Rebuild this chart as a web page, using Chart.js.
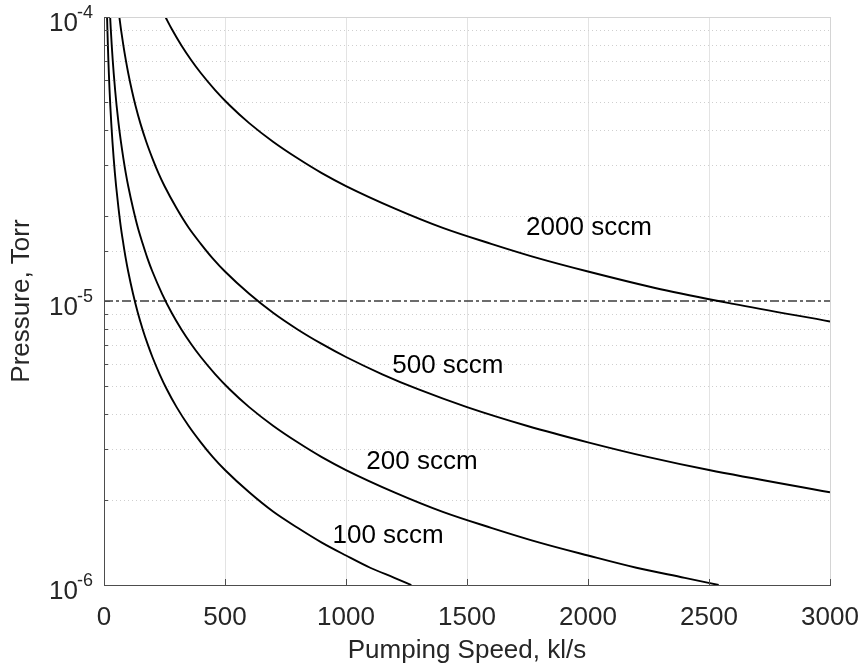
<!DOCTYPE html>
<html>
<head>
<meta charset="utf-8">
<script src="https://cdn.jsdelivr.net/npm/chart.js@4/dist/chart.umd.min.js"></script>
<style>
html,body{margin:0;padding:0;background:#fff;}
#wrap{width:863px;height:668px;}
</style>
</head>
<body>
<div id="wrap"><canvas id="c" width="863" height="668"></canvas></div>
<script>
// ---- data ----
const xTicks = [0, 500, 1000, 1500, 2000, 2500, 3000];
const yTickExps = [-6, -5, -4];

const s100 = [12.7,14,16,18,20,23,26,30,35,40,45,50,60,70,80,90,100,120,140,160,180,200,230,260,300,350,400,450,500,600,700,800,900,1000,1100,1200,1270];
const p100 = [1.0e-4,9.07e-5,7.94e-5,7.06e-5,6.35e-5,5.52e-5,4.88e-5,4.23e-5,3.63e-5,3.18e-5,2.82e-5,2.54e-5,2.12e-5,1.81e-5,1.59e-5,1.41e-5,1.27e-5,1.06e-5,9.07e-6,7.94e-6,7.06e-6,6.35e-6,5.52e-6,4.88e-6,4.23e-6,3.63e-6,3.18e-6,2.82e-6,2.54e-6,2.12e-6,1.81e-6,1.59e-6,1.41e-6,1.27e-6,1.15e-6,1.06e-6,1.0e-6];

const s200 = [25.4,28,32,36,40,46,52,60,70,80,90,100,120,140,160,180,200,240,280,320,360,400,460,520,600,700,800,900,1000,1200,1400,1600,1800,2000,2200,2400,2540];
const p200 = [1.0e-4,9.07e-5,7.94e-5,7.06e-5,6.35e-5,5.52e-5,4.88e-5,4.23e-5,3.63e-5,3.18e-5,2.82e-5,2.54e-5,2.12e-5,1.81e-5,1.59e-5,1.41e-5,1.27e-5,1.06e-5,9.07e-6,7.94e-6,7.06e-6,6.35e-6,5.52e-6,4.88e-6,4.23e-6,3.63e-6,3.18e-6,2.82e-6,2.54e-6,2.12e-6,1.81e-6,1.59e-6,1.41e-6,1.27e-6,1.15e-6,1.06e-6,1.0e-6];

const s500 = [63.5,70,80,90,100,115,130,150,175,200,225,250,300,350,400,450,500,600,700,800,900,1000,1150,1300,1500,1750,2000,2250,2500,3000];
const p500 = [1.0e-4,9.07e-5,7.94e-5,7.06e-5,6.35e-5,5.52e-5,4.88e-5,4.23e-5,3.63e-5,3.18e-5,2.82e-5,2.54e-5,2.12e-5,1.81e-5,1.59e-5,1.41e-5,1.27e-5,1.06e-5,9.07e-6,7.94e-6,7.06e-6,6.35e-6,5.52e-6,4.88e-6,4.23e-6,3.63e-6,3.18e-6,2.82e-6,2.54e-6,2.12e-6];

const s2000 = [254,280,320,360,400,460,520,600,700,800,900,1000,1200,1400,1600,1800,2000,2300,2600,3000];
const p2000 = [1.0e-4,9.07e-5,7.94e-5,7.06e-5,6.35e-5,5.52e-5,4.88e-5,4.23e-5,3.63e-5,3.18e-5,2.82e-5,2.54e-5,2.12e-5,1.81e-5,1.59e-5,1.41e-5,1.27e-5,1.10e-5,9.77e-6,8.47e-6];

const limitS = [0, 3000];
const limitP = [1e-5, 1e-5];

const seriesNames = ['100 sccm', '200 sccm', '500 sccm', '2000 sccm'];
const labelS = [1174, 1314, 1421, 2004];
const labelP = [1.49e-6, 2.71e-6, 5.9e-6, 1.815e-5];

const xTitle = 'Pumping Speed, kl/s';
const yTitle = 'Pressure, Torr';

// ---- build ----
const FONT = "'Liberation Sans', Arial, Helvetica, sans-serif";
const FS = 26;
function pts(xs, ys){ return xs.map((x,i)=>({x:x, y:ys[i]})); }
const curveStyle = {borderColor:'#000', borderWidth:1.9, pointRadius:0, fill:false, cubicInterpolationMode:'monotone'};

const datasets = [
  Object.assign({label:seriesNames[0], data:pts(s100,p100)}, curveStyle),
  Object.assign({label:seriesNames[1], data:pts(s200,p200)}, curveStyle),
  Object.assign({label:seriesNames[2], data:pts(s500,p500)}, curveStyle),
  Object.assign({label:seriesNames[3], data:pts(s2000,p2000)}, curveStyle),
  {label:'limit', data:pts(limitS,limitP), borderColor:'#3c3c3c', borderWidth:1.6, borderDash:[9,3,3,3], pointRadius:0, fill:false, tension:0}
];

const decor = {
  id:'decor',
  beforeDatasetsDraw(chart){
    const ctx = chart.ctx, a = chart.chartArea, ys = chart.scales.y;
    ctx.save();
    ctx.strokeStyle = '#cfcfcf';
    ctx.lineWidth = 1;
    ctx.setLineDash([1,3]);
    ys.ticks.forEach(t=>{
      const v = t.value;
      const e = Math.log10(v);
      if (Math.abs(e - Math.round(e)) < 1e-6) return;
      const py = Math.round(ys.getPixelForValue(v)) + 0.5;
      ctx.beginPath(); ctx.moveTo(a.left, py); ctx.lineTo(a.right, py); ctx.stroke();
    });
    ctx.restore();
  },
  afterDraw(chart){
    const ctx = chart.ctx, a = chart.chartArea, xs = chart.scales.x, ys = chart.scales.y;
    ctx.save();
    ctx.lineWidth = 1;
    ctx.strokeStyle = '#d4d4d4';
    ctx.beginPath();
    ctx.moveTo(a.left, Math.round(a.top)+0.5); ctx.lineTo(a.right, Math.round(a.top)+0.5);
    ctx.moveTo(Math.round(a.right)+0.5, a.top); ctx.lineTo(Math.round(a.right)+0.5, a.bottom);
    ctx.stroke();
    ctx.strokeStyle = '#4d4d4d';
    ctx.beginPath();
    ctx.moveTo(Math.round(a.left)+0.5, a.top); ctx.lineTo(Math.round(a.left)+0.5, a.bottom+0.5);
    ctx.lineTo(a.right+1, Math.round(a.bottom)+0.5);
    ctx.stroke();
    ctx.beginPath();
    xTicks.forEach(v=>{
      const px = Math.round(xs.getPixelForValue(v)) + 0.5;
      ctx.moveTo(px, a.bottom); ctx.lineTo(px, a.bottom-6);
    });
    ys.ticks.forEach(t=>{
      const py = Math.round(ys.getPixelForValue(t.value)) + 0.5;
      const e = Math.log10(t.value);
      const major = Math.abs(e - Math.round(e)) < 1e-6;
      ctx.moveTo(a.left, py); ctx.lineTo(a.left + (major?6:4), py);
    });
    ctx.stroke();

    ctx.fillStyle = '#262626';
    yTickExps.forEach(e=>{
      const py = ys.getPixelForValue(Math.pow(10,e));
      ctx.font = '18px ' + FONT;
      const sup = String(e);
      const sw = ctx.measureText(sup).width;
      const right = a.left - 11;
      ctx.textAlign = 'left'; ctx.textBaseline = 'middle';
      ctx.fillText(sup, right - sw, py - 4);
      ctx.font = FS + 'px ' + FONT;
      ctx.textAlign = 'right';
      ctx.fillText('10', right - sw + 1, py + 7);
    });

    ctx.font = FS + 'px ' + FONT;
    ctx.fillStyle = '#262626';
    ctx.textAlign = 'center'; ctx.textBaseline = 'middle';
    ctx.fillText(xTitle, (a.left + a.right)/2, 651);
    ctx.save();
    ctx.translate(22, (a.top + a.bottom)/2);
    ctx.rotate(-Math.PI/2);
    ctx.fillText(yTitle, 0, 0);
    ctx.restore();

    ctx.fillStyle = '#000';
    ctx.font = FS + 'px ' + FONT;
    seriesNames.forEach((n,i)=>{
      ctx.fillText(n, xs.getPixelForValue(labelS[i]), ys.getPixelForValue(labelP[i]));
    });
    ctx.restore();
  }
};

new Chart(document.getElementById('c'), {
  type:'line',
  data:{datasets:datasets},
  options:{
    responsive:false,
    devicePixelRatio:1,
    animation:false,
    layout:{padding:{top:17, right:33, left:0, bottom:0}},
    plugins:{legend:{display:false}, tooltip:{enabled:false}},
    scales:{
      x:{
        type:'linear', min:0, max:3000,
        afterBuildTicks(s){ s.ticks = xTicks.map(v=>({value:v})); },
        afterFit(s){ s.height = 83; s.paddingLeft = 0; s.paddingRight = 0; },
        ticks:{font:{family:FONT, size:FS}, color:'#262626', padding:17, maxRotation:0, autoSkip:false,
               callback:(v)=>String(v)},
        grid:{color:'#e3e3e3', drawTicks:false, lineWidth:1},
        border:{display:false}
      },
      y:{
        type:'logarithmic', min:1e-6, max:1e-4,
        afterFit(s){ s.width = 104; s.paddingTop = 0; s.paddingBottom = 0; },
        ticks:{display:false, autoSkip:false},
        grid:{display:false, drawTicks:false},
        border:{display:false}
      }
    }
  },
  plugins:[decor]
});
</script>
</body>
</html>
